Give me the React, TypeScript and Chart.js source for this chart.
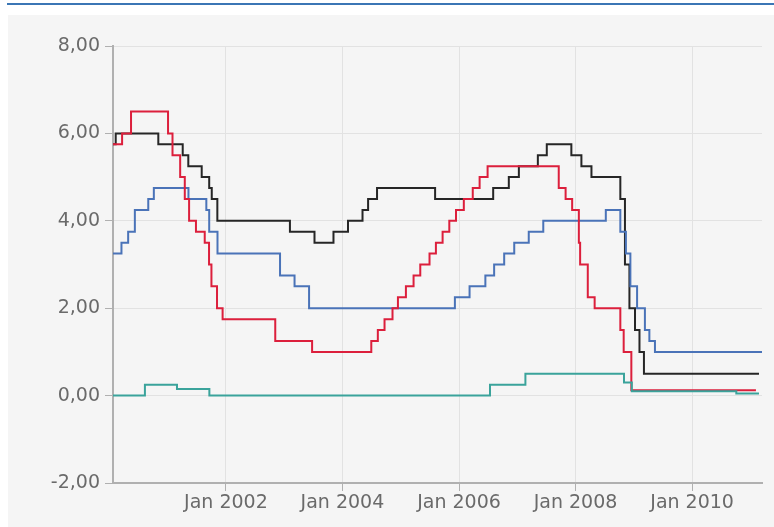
import React, { useEffect, useRef } from 'react';
import { Chart, registerables } from 'chart.js';

Chart.register(...registerables);

// Fed funds target (red)
const fedDates = [
  '2000-01-24', '2000-03-21', '2000-05-16', '2001-01-03', '2001-01-31', '2001-03-20',
  '2001-04-18', '2001-05-15', '2001-06-27', '2001-08-21', '2001-09-17', '2001-10-02',
  '2001-11-06', '2001-12-11', '2002-11-06', '2003-06-25', '2004-06-30', '2004-08-10',
  '2004-09-21', '2004-11-10', '2004-12-14', '2005-02-02', '2005-03-22', '2005-05-03',
  '2005-06-30', '2005-08-09', '2005-09-20', '2005-11-01', '2005-12-13', '2006-01-31',
  '2006-03-28', '2006-05-10', '2006-06-29', '2007-09-18', '2007-10-31', '2007-12-11',
  '2008-01-22', '2008-01-30', '2008-03-18', '2008-04-30', '2008-10-08', '2008-10-29',
  '2008-12-16', '2011-02-05',
];
const fedRates = [
  5.75, 6.0, 6.5, 6.0, 5.5, 5.0,
  4.5, 4.0, 3.75, 3.5, 3.0, 2.5,
  2.0, 1.75, 1.25, 1.0, 1.25, 1.5,
  1.75, 2.0, 2.25, 2.5, 2.75, 3.0,
  3.25, 3.5, 3.75, 4.0, 4.25, 4.5,
  4.75, 5.0, 5.25, 4.75, 4.5, 4.25,
  3.5, 3.0, 2.25, 2.0, 1.5, 1.0,
  0.125, 0.125,
];

// ECB main refinancing rate (blue)
const ecbDates = [
  '2000-01-24', '2000-03-17', '2000-04-28', '2000-06-09', '2000-09-01', '2000-10-06',
  '2001-05-11', '2001-08-31', '2001-09-18', '2001-11-09', '2002-12-06', '2003-03-07',
  '2003-06-06', '2005-12-06', '2006-03-08', '2006-06-15', '2006-08-09', '2006-10-11',
  '2006-12-13', '2007-03-14', '2007-06-13', '2008-07-09', '2008-10-08', '2008-11-12',
  '2008-12-10', '2009-01-21', '2009-03-11', '2009-04-08', '2009-05-13', '2011-03-15',
];
const ecbRates = [
  3.25, 3.5, 3.75, 4.25, 4.5, 4.75,
  4.5, 4.25, 3.75, 3.25, 2.75, 2.5,
  2.0, 2.25, 2.5, 2.75, 3.0, 3.25,
  3.5, 3.75, 4.0, 4.25, 3.75, 3.25,
  2.5, 2.0, 1.5, 1.25, 1.0, 1.0,
];

// Bank of England base rate (black)
const boeDates = [
  '2000-01-24', '2000-02-10', '2000-11-03', '2001-04-05', '2001-05-10', '2001-08-02',
  '2001-09-18', '2001-10-04', '2001-11-08', '2003-02-06', '2003-07-10', '2003-11-06',
  '2004-02-05', '2004-05-06', '2004-06-10', '2004-08-05', '2005-08-04', '2006-08-03',
  '2006-11-09', '2007-01-11', '2007-05-10', '2007-07-05', '2007-12-06', '2008-02-07',
  '2008-04-10', '2008-10-08', '2008-11-06', '2008-12-04', '2009-01-08', '2009-02-05',
  '2009-03-05', '2011-02-24',
];
const boeRates = [
  5.75, 6.0, 5.75, 5.5, 5.25, 5.0,
  4.75, 4.5, 4.0, 3.75, 3.5, 3.75,
  4.0, 4.25, 4.5, 4.75, 4.5, 4.75,
  5.0, 5.25, 5.5, 5.75, 5.5, 5.25,
  5.0, 4.5, 3.0, 2.0, 1.5, 1.0,
  0.5, 0.5,
];

// Bank of Japan (teal)
const bojDates = [
  '2000-01-24', '2000-08-11', '2001-02-28', '2001-09-19', '2006-07-14', '2007-02-21',
  '2008-10-31', '2008-12-19', '2010-10-05', '2011-02-24',
];
const bojRates = [0, 0.25, 0.15, 0, 0.25, 0.5, 0.3, 0.1, 0.05, 0.05];

const yTickValues = [-2, 0, 2, 4, 6, 8];
const xTickYears = [2002, 2004, 2006, 2008, 2010];
const xMinDate = '2000-01-24';
const xMaxDate = '2011-03-15';

const toTime = (d: string) => Date.parse(d + 'T00:00:00Z');
const toPoints = (dates: string[], values: number[]) =>
  dates.map((d, i) => ({ x: toTime(d), y: values[i] }));

const labelFont = { family: '"DejaVu Sans", Verdana, sans-serif', size: 19 };
const labelColor = '#6a6a6a';
const gridColor = '#e2e2e2';
const axisColor = '#b0b0b0';

export default function App() {
  const ref = useRef<HTMLCanvasElement>(null);

  useEffect(() => {
    if (!ref.current) return;
    const chart = new Chart(ref.current, {
      type: 'line',
      data: {
        datasets: [
          { label: 'BoJ', data: toPoints(bojDates, bojRates), borderColor: '#3aa39b' },
          { label: 'Fed', data: toPoints(fedDates, fedRates), borderColor: '#dc1f3c' },
          { label: 'ECB', data: toPoints(ecbDates, ecbRates), borderColor: '#4a73b8' },
          { label: 'BoE', data: toPoints(boeDates, boeRates), borderColor: '#262626' },
        ],
      },
      options: {
        responsive: false,
        animation: false,
        events: [],
        plugins: { legend: { display: false }, tooltip: { enabled: false } },
        layout: { padding: { left: 0, right: 12, top: 46, bottom: 0 } },
        elements: {
          point: { radius: 0 },
          line: { borderWidth: 2, stepped: true, tension: 0, fill: false },
        },
        scales: {
          x: {
            type: 'linear',
            min: toTime(xMinDate),
            max: toTime(xMaxDate),
            afterBuildTicks: (s: any) => {
              s.ticks = xTickYears.map((y) => ({ value: Date.UTC(y, 0, 1) }));
            },
            afterFit: (s: any) => {
              s.height = 44;
            },
            ticks: {
              autoSkip: false,
              maxRotation: 0,
              padding: 1,
              color: labelColor,
              font: labelFont,
              callback: (v: any) => 'Jan ' + new Date(Number(v)).getUTCFullYear(),
            },
            grid: { color: gridColor, tickColor: axisColor, tickLength: 8, lineWidth: 1 },
            border: { color: axisColor, width: 2 },
          },
          y: {
            type: 'linear',
            min: -2,
            max: 8,
            afterBuildTicks: (s: any) => {
              s.ticks = yTickValues.map((v) => ({ value: v }));
            },
            afterFit: (s: any) => {
              s.width = 113;
            },
            ticks: {
              padding: 5,
              color: labelColor,
              font: labelFont,
              callback: (v: any) => Number(v).toFixed(2).replace('.', ','),
            },
            grid: { color: gridColor, tickColor: axisColor, tickLength: 8, lineWidth: 1 },
            border: { color: axisColor, width: 2 },
          },
        },
      },
    } as any);
    return () => chart.destroy();
  }, []);

  return (
    <div style={{ position: 'fixed', left: 0, top: 0, width: 774, height: 527, background: '#ffffff' }}>
      <div style={{ position: 'absolute', left: 7, top: 3, width: 767, height: 2, background: '#3b76b5' }} />
      <div style={{ position: 'absolute', left: 8, top: 15, right: 0, bottom: 0, background: '#f5f5f5' }} />
      <canvas
        ref={ref}
        width={774}
        height={527}
        style={{ position: 'absolute', left: 0, top: 0, width: 774, height: 527 }}
      />
    </div>
  );
}
